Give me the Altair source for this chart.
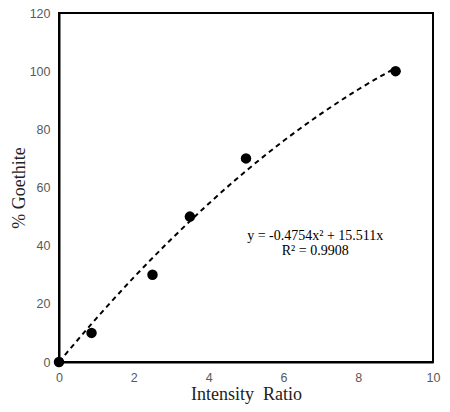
import altair as alt
import pandas as pd

# measured points
intensity_ratio = [0, 0.87, 2.5, 3.5, 5, 9]
goethite_pct = [0, 10, 30, 50, 70, 100]

# dashed trend curve
trend_x = [0, 1, 2, 3, 4, 5, 6, 7, 8, 9]
trend_y = [0, 15.0, 29.1, 42.2, 54.4, 65.7, 76.0, 85.3, 93.7, 101.1]

eq_lines = ['y = -0.4754x² + 15.511x', 'R² = 0.9908']
eq_x = [6.85, 6.85]
eq_y = [43.3, 38.3]

pts = pd.DataFrame({'ratio': intensity_ratio, 'goethite': goethite_pct})
trend = pd.DataFrame({'ratio': trend_x, 'goethite': trend_y})
eq = pd.DataFrame({'ratio': eq_x, 'goethite': eq_y, 'label': eq_lines})

xscale = alt.Scale(domain=[0, 10], nice=False, zero=False)
yscale = alt.Scale(domain=[0, 120], nice=False)

xaxis = alt.Axis(title='Intensity\u00a0 Ratio', values=[0, 2, 4, 6, 8, 10], grid=False,
                 ticks=False, labelFlush=False, labelPadding=9, titlePadding=2)
yaxis = alt.Axis(title='% Goethite', values=[0, 20, 40, 60, 80, 100, 120], grid=False,
                 ticks=False, labelFlush=False, labelPadding=9, titlePadding=1)

line = alt.Chart(trend).mark_line(color='black', strokeDash=[5, 4], strokeWidth=2,
                                  interpolate='monotone').encode(
    x=alt.X('ratio:Q', scale=xscale, axis=xaxis),
    y=alt.Y('goethite:Q', scale=yscale, axis=yaxis)
)

dots = alt.Chart(pts).mark_circle(color='black', opacity=1, size=110).encode(
    x=alt.X('ratio:Q', scale=xscale),
    y=alt.Y('goethite:Q', scale=yscale)
)

text = alt.Chart(eq).mark_text(font='Liberation Serif', fontSize=14, color='black',
                               align='center', baseline='middle').encode(
    x=alt.X('ratio:Q', scale=xscale),
    y=alt.Y('goethite:Q', scale=yscale),
    text='label:N'
)

chart = (line + dots + text).properties(
    width=374, height=349,
    autosize=alt.AutoSizeParams(type='none'),
    padding={'left': 51, 'top': 5, 'right': 9, 'bottom': 42}
).configure_view(stroke='black', strokeWidth=2
).configure_axis(domainColor='black', domainWidth=2,
                 labelFont='Liberation Sans', labelFontSize=12.5, labelColor='#595959',
                 titleFont='Liberation Serif', titleFontSize=18, titleFontWeight='normal',
                 titleColor='#222222')

chart.save('out.html', embed_options={'renderer': 'svg', 'actions': False})
